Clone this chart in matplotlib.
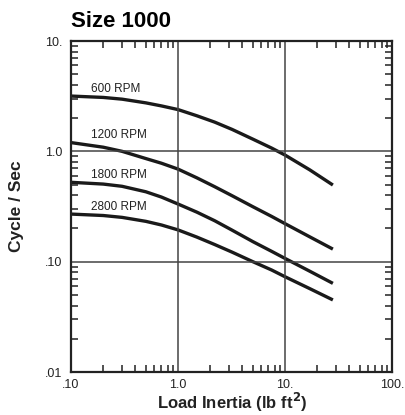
import numpy as np
import matplotlib
matplotlib.use("Agg")
import matplotlib.pyplot as plt
from matplotlib.ticker import LogLocator, NullFormatter

plt.rcParams['font.family'] = ['Liberation Sans', 'DejaVu Sans']

# load inertia (lb ft^2)
inertia = [0.1, 0.2, 0.3, 0.5, 0.7, 1.0, 1.5, 2.2, 3.2, 5.0, 7.5, 10.0, 17.0, 28.0]

# cycles per second for each speed
rpm_600 = [3.17, 3.08, 2.97, 2.75, 2.58, 2.39, 2.10, 1.84, 1.58, 1.29, 1.07, 0.925, 0.68, 0.495]
rpm_1200 = [1.20, 1.09, 1.00, 0.86, 0.78, 0.69, 0.575, 0.478, 0.396, 0.315, 0.257, 0.221, 0.168, 0.130]
rpm_1800 = [0.524, 0.505, 0.482, 0.43, 0.385, 0.333, 0.281, 0.235, 0.193, 0.152, 0.124, 0.107, 0.082, 0.0636]
rpm_2800 = [0.270, 0.262, 0.252, 0.232, 0.215, 0.194, 0.167, 0.143, 0.122, 0.100, 0.084, 0.073, 0.057, 0.045]

curves = [rpm_600, rpm_1200, rpm_1800, rpm_2800]
labels = ['600 RPM', '1200 RPM', '1800 RPM', '2800 RPM']
label_y = [3.66, 1.40, 0.605, 0.31]

x_ticks = [0.1, 1.0, 10.0, 100.0]
x_ticklabels = ['.10', '1.0', '10.', '100.']
y_ticks = [0.01, 0.1, 1.0, 10.0]
y_ticklabels = ['.01', '.10', '1.0', '10.']

fig = plt.figure(figsize=(4.06, 4.15), dpi=100)
ax = fig.add_axes([0.175, 0.1036, 0.7906, 0.7976])

for c in curves:
    ax.plot(inertia, c, color='#1a1a1a', lw=2.4, solid_capstyle='butt',
            solid_joinstyle='round')

for lab, ly in zip(labels, label_y):
    ax.text(0.155, ly, lab, fontsize=8.5, va='center', ha='left', color='#222222')

ax.set_xscale('log')
ax.set_yscale('log')
ax.set_xlim(0.1, 100)
ax.set_ylim(0.01, 10)

ax.set_xticks(x_ticks)
ax.set_xticklabels(x_ticklabels)
ax.set_yticks(y_ticks)
ax.set_yticklabels(y_ticklabels)
ax.xaxis.set_minor_locator(LogLocator(base=10, subs=np.arange(2, 10)))
ax.yaxis.set_minor_locator(LogLocator(base=10, subs=np.arange(2, 10)))
ax.xaxis.set_minor_formatter(NullFormatter())
ax.yaxis.set_minor_formatter(NullFormatter())

ax.tick_params(which='both', direction='in', top=True, right=True, labelsize=9, colors='#222222')
ax.tick_params(which='major', length=0, pad=6)
ax.tick_params(axis='x', which='major', pad=5)
ax.tick_params(which='minor', length=5, width=1.1)

for v in [1.0, 10.0]:
    ax.axvline(v, color='#444444', lw=1.1)
for v in [0.1, 1.0]:
    ax.axhline(v, color='#444444', lw=1.1)

for s in ax.spines.values():
    s.set_linewidth(1.6)
    s.set_color('#222222')

# axis titles placed in figure coords
fig.text(0.571, 0.014, 'Load Inertia (lb ft$^\\mathbf{2}$)', fontsize=12,
         fontweight='bold', ha='center', va='baseline', color='#222222')
fig.text(0.04, 0.502, 'Cycle / Sec', fontsize=12.5, fontweight='bold',
         rotation=90, ha='center', va='center', color='#222222')
ax.set_title('Size 1000', fontsize=16, fontweight='bold', loc='left', pad=10)

fig.savefig('out.png', dpi=100)
